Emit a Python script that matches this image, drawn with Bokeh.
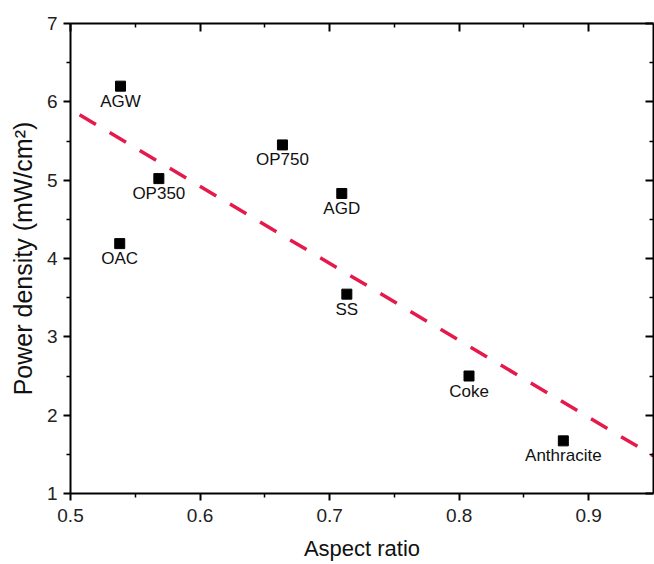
from bokeh.plotting import figure
from bokeh.models import LinearAxis, ColumnDataSource, FixedTicker, CustomJSTickFormatter
from bokeh.core.properties import value
from bokeh.embed import file_html
from bokeh.resources import INLINE

# ---- data ----
names = ["AGW", "OP350", "OAC", "OP750", "AGD", "SS", "Coke", "Anthracite"]
aspect_ratio = [0.5386, 0.5682, 0.538, 0.6636, 0.7094, 0.7133, 0.8076, 0.8804]
power_density = [6.20, 5.02, 4.19, 5.45, 4.83, 3.545, 2.50, 1.672]

fit_x = [0.507, 0.95]
fit_y = [5.836, 1.48]

x_ticks = [0.5, 0.6, 0.7, 0.8, 0.9]
x_minor = [0.55, 0.65, 0.75, 0.85]
y_ticks = [1, 2, 3, 4, 5, 6, 7]
y_minor = [1.5, 2.5, 3.5, 4.5, 5.5, 6.5]

FONT = "Liberation Sans"

p = figure(width=654, height=564, output_backend="svg", toolbar_location=None,
           x_range=(0.5, 0.95), y_range=(1, 7),
           min_border_left=70, min_border_right=1, min_border_top=23, min_border_bottom=71,
           background_fill_color="white", border_fill_color="white")
p.grid.visible = False
p.outline_line_color = None

src = ColumnDataSource(dict(x=aspect_ratio, y=power_density, name=names))

p.line(fit_x, fit_y, line_color="#e6194b", line_width=3.5, line_dash="19 16")
p.scatter("x", "y", source=src, marker="square", size=10, fill_color="black", line_color="black")
p.text("x", "y", text="name", source=src, y_offset=15, text_align="center",
       text_baseline="middle", text_font=value(FONT), text_font_size="17px", text_color="#111111")

def style(ax, labels=True, inward=False):
    ax.axis_line_color = "black"
    ax.axis_line_width = 2
    ax.major_tick_line_color = "black"
    ax.minor_tick_line_color = "black"
    ax.major_tick_line_width = 2
    ax.minor_tick_line_width = 1.5
    if inward:
        ax.major_tick_in = 8
        ax.major_tick_out = 0
        ax.minor_tick_in = 4
        ax.minor_tick_out = 0
    else:
        ax.major_tick_in = 0
        ax.major_tick_out = 7
        ax.minor_tick_in = 0
        ax.minor_tick_out = 4
    if labels:
        ax.major_label_text_font = FONT
        ax.major_label_text_font_size = "19px"
        ax.major_label_text_color = "#222222"
        ax.major_label_standoff = 6
        ax.axis_label_text_font = FONT
        ax.axis_label_text_font_style = "normal"
        ax.axis_label_text_color = "#111111"
    else:
        ax.major_label_text_font_size = "0px"
        ax.major_label_standoff = 0
        ax.formatter = CustomJSTickFormatter(code="return ''")

p.xaxis.ticker = FixedTicker(ticks=x_ticks, minor_ticks=x_minor)
p.yaxis.ticker = FixedTicker(ticks=y_ticks, minor_ticks=y_minor)
style(p.xaxis[0])
style(p.yaxis[0])
p.xaxis.major_label_standoff = 8
p.xaxis.axis_label = "Aspect ratio"
p.xaxis.axis_label_text_font_size = "22px"
p.xaxis.axis_label_standoff = 11
p.yaxis.axis_label = "Power density (mW/cm²)"
p.yaxis.axis_label_text_font_size = "25px"
p.yaxis.axis_label_standoff = 7

top = LinearAxis(ticker=FixedTicker(ticks=x_ticks, minor_ticks=x_minor))
style(top, labels=False, inward=True)
p.add_layout(top, "above")
right = LinearAxis(ticker=FixedTicker(ticks=y_ticks, minor_ticks=y_minor))
style(right, labels=False, inward=True)
p.add_layout(right, "right")

open("out.html", "w").write(file_html(p, INLINE))
